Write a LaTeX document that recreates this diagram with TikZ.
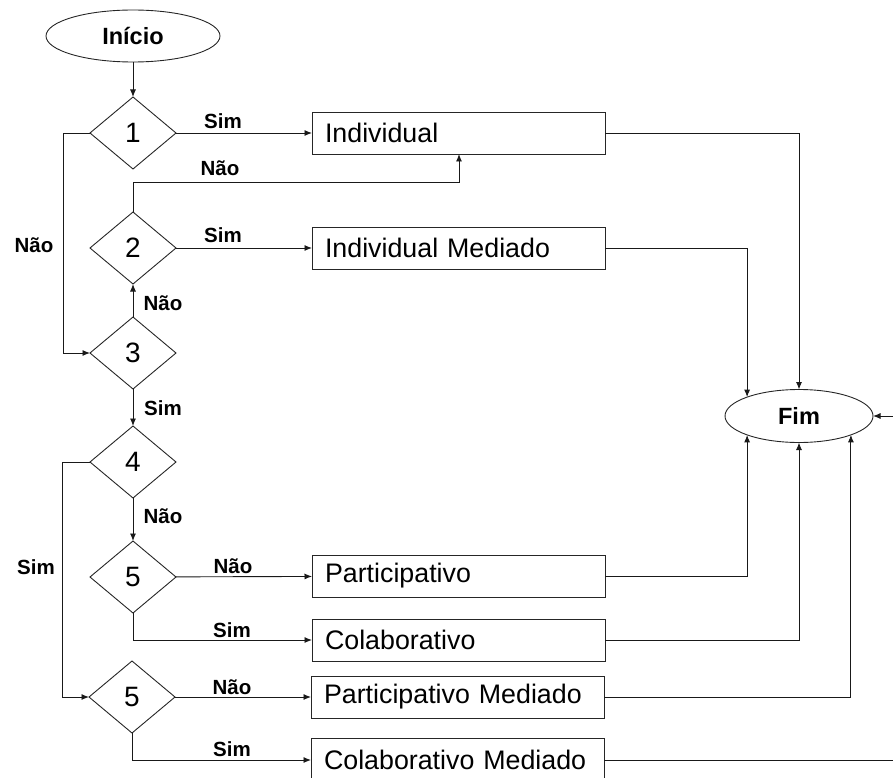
\documentclass[tikz,border=0pt]{standalone}
\usepackage{fontspec}
\setmainfont{Liberation Sans}
\usetikzlibrary{shapes.geometric,arrows.meta}

\tikzset{
  base/.style={draw=black!85, line width=0.9pt, outer sep=0pt},
  terminal/.style={base, ellipse, minimum width=174pt, minimum height=52pt, inner sep=0pt, font=\fontsize{23.5}{26}\selectfont\bfseries},
  decision/.style={base, diamond, minimum width=86pt, minimum height=72pt, inner sep=0pt, font=\fontsize{28}{30}\selectfont},
  outcome/.style={base, rectangle, anchor=west, minimum height=42pt, text width=267pt, inner xsep=13pt, inner ysep=0pt, align=left, font=\fontsize{26.8}{28}\selectfont},
  tag/.style={font=\fontsize{20.5}{22}\selectfont\bfseries, inner sep=0pt},
  arr/.style={line width=0.9pt, draw=black!90, -{Latex[length=7.5pt,width=6pt]}},
  link/.style={line width=0.9pt, draw=black!90}
}

\begin{document}
\begin{tikzpicture}[x=1pt, y=-1pt]
  \useasboundingbox (0,0) rectangle (893,778);

  % start and end terminals
  \node[terminal] (ini) at (133,36) {Início};
  \node[terminal, minimum width=148pt, minimum height=53pt] (fim) at (799,416) {Fim};

  % decisions
  \node[decision] (d1) at (133,133) {1};
  \node[decision] (d2) at (133,248) {2};
  \node[decision] (d3) at (133,353) {3};
  \node[decision] (d4) at (133,462) {4};
  \node[decision] (d5a) at (133,577) {5};
  \node[decision] (d5b) at (132,697) {5};

  % outcomes
  \node[outcome] (ind)   at (312,133) {Individual};
  \node[outcome] (indm)  at (312,248) {Individual Mediado};
  \node[outcome] (part)  at (312,576) {Participativo};
  \node[outcome] (col)   at (312,640) {Colaborativo};
  \node[outcome] (partm) at (311,697) {Participativo Mediado};
  \node[outcome, minimum height=43pt] (colm) at (311,760) {Colaborativo Mediado};

  % routing points
  \coordinate (jn) at (459,182);
  \coordinate (edgeA) at (893,760);
  \coordinate (edgeB) at (893,416);

  % flow between decisions
  \draw[arr] (ini) -- (d1);
  \draw[arr] (d1) -- (ind);
  \draw[arr] (d1.west) -- ++(-27,0) |- (d3.west);
  \draw[arr] (d2.north) |- (jn) -- (jn |- ind.south);
  \draw[arr] (d2) -- (indm);
  \draw[arr] (d3.north) -- (d2.south);
  \draw[arr] (d3.south) -- (d4.north);
  \draw[arr] (d4.south) -- (d5a.north);
  \draw[arr] (d4.west) -- ++(-28,0) |- (d5b.west);
  \draw[arr] (d5a) -- (part);
  \draw[arr] (d5a.south) |- (col.west);
  \draw[arr] (d5b) -- (partm);
  \draw[arr] (d5b.south) |- (colm.west);

  % outcomes into the end terminal
  \draw[arr] (ind.east) -| (fim.north);
  \draw[arr] (indm.east) -| (fim.160);
  \draw[arr] (part.east) -| (fim.200);
  \draw[arr] (col.east) -| (fim.south);
  \draw[arr] (partm.east) -| (fim.340);
  \draw[link] (colm.east) -- (edgeA);
  \draw[arr] (edgeB) -- (fim.east);

  % branch labels
  \node[tag] (t1)  at (223,121) {Sim};
  \node[tag] (t2)  at (220,168) {Não};
  \node[tag] (t3)  at (34,245)  {Não};
  \node[tag] (t4)  at (223,235) {Sim};
  \node[tag] (t5)  at (163,303) {Não};
  \node[tag] (t6)  at (163,408) {Sim};
  \node[tag] (t7)  at (163,516) {Não};
  \node[tag] (t8)  at (36,567)  {Sim};
  \node[tag] (t9)  at (233,566) {Não};
  \node[tag] (t10) at (232,630) {Sim};
  \node[tag] (t11) at (232,687) {Não};
  \node[tag] (t12) at (232,749) {Sim};
\end{tikzpicture}
\end{document}
